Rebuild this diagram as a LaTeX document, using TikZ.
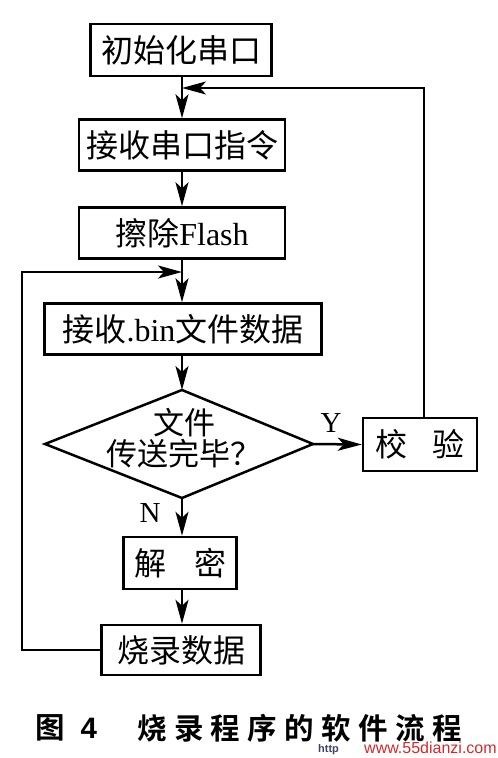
\documentclass[tikz,border=0pt]{standalone}
\usepackage{fontspec}
\setmainfont{Liberation Serif}
\newfontfamily\cjk{Noto Sans CJK SC}
\newfontfamily\cjkb{Noto Sans CJK SC Bold}
\newfontfamily\wmfont{Liberation Sans}
\usetikzlibrary{arrows.meta}
\begin{document}
\begin{tikzpicture}[x=1pt,y=-1pt,
  box/.style={draw,line width=2.5pt,inner sep=0pt,font=\fontsize{32}{33}\selectfont},
  arr/.style={line width=2.5pt,-{Stealth[length=24pt,width=13pt,inset=6pt]}},
  lbl/.style={font=\fontsize{29}{29}\selectfont}]
\useasboundingbox (0,0) rectangle (498,758);
\node[box,minimum width=181pt,minimum height=52pt] (b1) at (181,50) {\cjk 初始化串口};
\node[box,minimum width=206pt,minimum height=51pt] (b2) at (182,145) {\cjk 接收串口指令};
\node[box,minimum width=206pt,minimum height=51pt] (b3) at (182,233) {{\cjk 擦除}Flash};
\node[box,minimum width=277pt,minimum height=51pt] (b4) at (183,329) {{\cjk 接收}.bin{\cjk 文件数据}};
% diamond
\coordinate (dt) at (182,390);
\coordinate (db) at (182,498);
\coordinate (dl) at (45,444);
\coordinate (dr) at (313,444);
\draw[line width=2.5pt,line join=miter] (dt) -- (dr) -- (db) -- (dl) -- cycle;
\node[font=\fontsize{31}{31}\selectfont,align=center,inner sep=0pt] (dtext) at (184,438) {\cjk 文件\\\cjk 传送完毕？};
\node[box,minimum width=113pt,minimum height=52pt] (b5) at (180,563) {\cjk 解\hspace{28pt}密};
\node[box,minimum width=114pt,minimum height=53pt] (b6) at (420,444.5) {\cjk 校\hspace{26pt}验};
\node[box,minimum width=159pt,minimum height=50pt] (b7) at (181,650) {\cjk 烧录数据};
\node[lbl] (ly) at (331,423) {Y};
\node[lbl] (ln) at (150,513) {N};
% connectors
\draw[arr] (b1.south -| dt) -- (b2.north -| dt);
\draw[arr] (b2.south -| dt) -- (b3.north -| dt);
\draw[arr] (b3.south -| dt) -- (b4.north -| dt);
\draw[arr] (b4.south -| dt) -- (dt);
\draw[arr] (db) -- (b5.north -| dt);
\draw[arr] (b5.south -| dt) -- (b7.north -| dt);
\draw[arr] (dr) -- (b6.west);
\coordinate (fbr) at (424,88);
\coordinate (fbl) at (182,88);
\draw[arr] (b6.north -| fbr) -- (fbr) -- (fbl);
\coordinate (lpb) at (22,650);
\coordinate (lpt) at (22,272);
\coordinate (lpe) at (182,272);
\draw[arr] (b7.west) -- (lpb) -- (lpt) -- (lpe);
% caption
\node[anchor=west,inner sep=0pt,font=\fontsize{29.5}{29.5}\selectfont] (cap1) at (35,728) {\cjkb 图\hspace{16pt}\wmfont\bfseries 4};
\node[anchor=west,inner sep=0pt,font=\fontsize{29.5}{29.5}\selectfont] (cap2) at (137,728) {\cjkb\addfontfeature{LetterSpace=25} 烧录程序的软件流程};
\node[anchor=west,inner sep=0pt,text={rgb,255:red,60;green,70;blue,100},font=\wmfont\bfseries\fontsize{11}{11}\selectfont] (wm0) at (318,750) {http};
\node[anchor=west,inner sep=0pt,text={rgb,255:red,215;green,40;blue,40},font=\wmfont\fontsize{16}{16}\selectfont] (wm) at (364,748) {www.55dianzi.com};
\end{tikzpicture}
\end{document}
